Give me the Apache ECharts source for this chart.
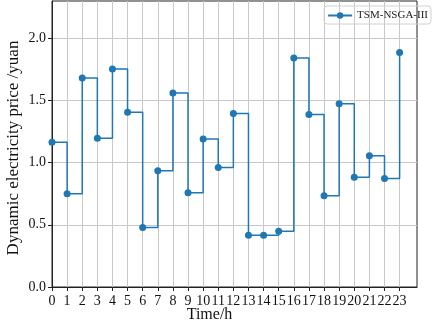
<!DOCTYPE html>
<html>
<head>
<meta charset="utf-8">
<script src="https://cdn.jsdelivr.net/npm/echarts@6/dist/echarts.min.js"></script>
<style>
  html, body { margin: 0; padding: 0; background: #fff; }
  #main { width: 432px; height: 322px; }
</style>
</head>
<body>
<div id="main"></div>
<script>
  // hours of the day and the price
  var hours = [0, 1, 2, 3, 4, 5, 6, 7, 8, 9, 10, 11, 12, 13, 14, 15, 16, 17, 18, 19, 20, 21, 22, 23];
  var price = [1.165, 0.749, 1.68, 1.196, 1.754, 1.405, 0.478, 0.934, 1.561, 0.757, 1.191, 0.961,
               1.395, 0.417, 0.417, 0.449, 1.842, 1.387, 0.733, 1.473, 0.883, 1.055, 0.872, 1.885];
  var yTicks = [0, 0.5, 1.0, 1.5, 2.0];
  var seriesName = 'TSM-NSGA-III';

  var font = 'Liberation Serif';
  var pts = [];
  for (var i = 0; i < hours.length; i++) {
    pts.push([hours[i], price[i]]);
  }

  var chartDom = document.getElementById('main');
  var myChart = echarts.init(chartDom);
  var option = {
    animation: false,
    grid: {
      left: 52, right: 15, top: 1, bottom: 35,
      outerBoundsMode: 'none',
      containLabel: false,
      show: true, borderColor: '#222', borderWidth: 1
    },
    legend: {
      data: [seriesName],
      right: 1, top: 6,
      borderColor: '#d0d0d0', borderWidth: 1, borderRadius: 3,
      padding: [4, 3, 3, 3],
      itemWidth: 24, itemHeight: 8, itemGap: 6,
      textStyle: { fontFamily: font, fontSize: 11, color: '#222' }
    },
    xAxis: {
      type: 'value',
      min: 0, max: 24.15, interval: 1,
      name: 'Time/h', nameLocation: 'middle', nameGap: 20,
      nameMoveOverlap: false,
      // the label sits a little left of the plot centre in the picture
      nameTextStyle: { fontFamily: font, fontSize: 16, color: '#111', padding: [0, 50, 0, 0] },
      axisLine: { lineStyle: { color: '#222' } },
      axisTick: { inside: false, length: 4, customValues: hours, lineStyle: { color: '#222' } },
      axisLabel: { customValues: hours, margin: 7, fontFamily: font, fontSize: 14, color: '#111' },
      splitLine: { show: true, lineStyle: { color: '#c8c8c8', width: 1 } }
    },
    yAxis: {
      type: 'value',
      min: 0, max: 2.3, interval: 0.5,
      name: 'Dynamic electricity price /yuan', nameLocation: 'middle', nameGap: 30,
      nameMoveOverlap: false,
      nameTextStyle: { fontFamily: font, fontSize: 17, color: '#111', padding: [0, 8, 0, 0] },
      axisLine: { show: true, lineStyle: { color: '#222' } },
      axisTick: { show: true, length: 4, customValues: yTicks, lineStyle: { color: '#222' } },
      axisLabel: {
        customValues: yTicks, margin: 6, fontFamily: font, fontSize: 14, color: '#111',
        formatter: function (v) { return v.toFixed(1); }
      },
      splitLine: { show: true, lineStyle: { color: '#c8c8c8', width: 1 } }
    },
    series: [
      {
        name: seriesName,
        type: 'line',
        step: 'end',
        data: pts,
        symbol: 'circle',
        symbolSize: 7,
        color: '#1f77b4',
        lineStyle: { width: 1.5, color: '#1f77b4' },
        itemStyle: { color: '#1f77b4' }
      }
    ]
  };
  option && myChart.setOption(option);
</script>
</body>
</html>
